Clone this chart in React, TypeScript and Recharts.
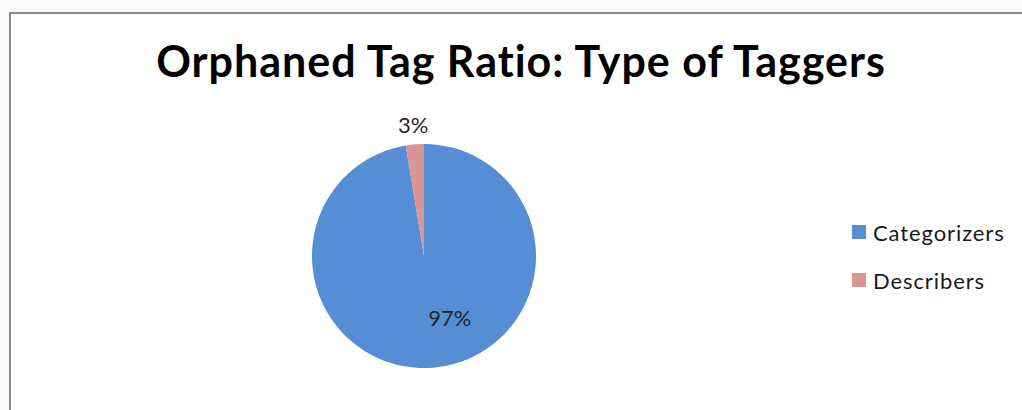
import React from "react";
import { PieChart, Pie, Cell, Legend } from "recharts";

const categories = ["Categorizers", "Describers"];
const shares = [97.4, 2.6];
const colors = ["#558ed5", "#d99694"];
const titleText = "Orphaned Tag Ratio: Type of Taggers";

const data = categories.map((name, i) => ({ name, value: shares[i] }));

const FONT = "Lato, 'Open Sans', sans-serif";

const renderLabel = (props: any) => {
  const { cx, cy, midAngle, outerRadius, percent } = props;
  const RAD = Math.PI / 180;
  let x: number;
  let y: number;
  if (percent < 0.5) {
    const r = outerRadius + 20;
    x = cx + r * Math.cos(-midAngle * RAD);
    y = cy + r * Math.sin(-midAngle * RAD);
  } else {
    x = cx + outerRadius * 0.23;
    y = cy + outerRadius * 0.55;
  }
  return (
    <text
      x={x}
      y={y}
      textAnchor="middle"
      dominantBaseline="central"
      fill="#262626"
      fontSize={22}
      fontFamily={FONT}
    >
      {`${Math.round(percent * 100)}%`}
    </text>
  );
};

const renderLegend = (props: any) => {
  const payload = props.payload || [];
  return (
    <div>
      {payload.map((entry: any) => (
        <div
          key={entry.value}
          style={{ display: "flex", alignItems: "center", height: 48 }}
        >
          <span
            style={{
              display: "inline-block",
              width: 14,
              height: 14,
              background: entry.color,
              marginRight: 7,
            }}
          />
          <span
            style={{
              color: "#1a1a1a",
              fontSize: 22,
              fontFamily: FONT,
              letterSpacing: 0.9,
            }}
          >
            {entry.value}
          </span>
        </div>
      ))}
    </div>
  );
};

export default function App() {
  return (
    <div
      style={{
        position: "absolute",
        left: 0,
        top: 0,
        width: 1022,
        height: 410,
        background: "#f9f9f9",
        overflow: "hidden",
        fontFamily: FONT,
      }}
    >
      <div
        style={{
          position: "absolute",
          left: 9,
          top: 12,
          width: 1040,
          height: 420,
          border: "2px solid #8c8c8c",
          background: "#ffffff",
        }}
      />
      <div
        style={{
          position: "absolute",
          left: 0,
          top: 33,
          width: 1042,
          textAlign: "center",
          fontSize: 43,
          fontWeight: 700,
          color: "#000",
          lineHeight: "56px",
          letterSpacing: 1,
        }}
      >
        {titleText}
      </div>
      <div style={{ position: "absolute", left: 0, top: 0 }}>
        <PieChart width={1022} height={410} margin={{ top: 0, right: 0, bottom: 0, left: 0 }}>
          <Pie
            data={data}
            dataKey="value"
            nameKey="name"
            cx={424}
            cy={256}
            outerRadius={112}
            startAngle={90}
            endAngle={-270}
            stroke="none"
            label={renderLabel}
            labelLine={false}
            isAnimationActive={false}
          >
            {data.map((d, i) => (
              <Cell key={d.name} fill={colors[i]} />
            ))}
          </Pie>
          <Legend
            layout="vertical"
            align="right"
            verticalAlign="top"
            content={renderLegend}
            wrapperStyle={{ left: 852, top: 208, width: 170 }}
          />
        </PieChart>
      </div>
    </div>
  );
}
